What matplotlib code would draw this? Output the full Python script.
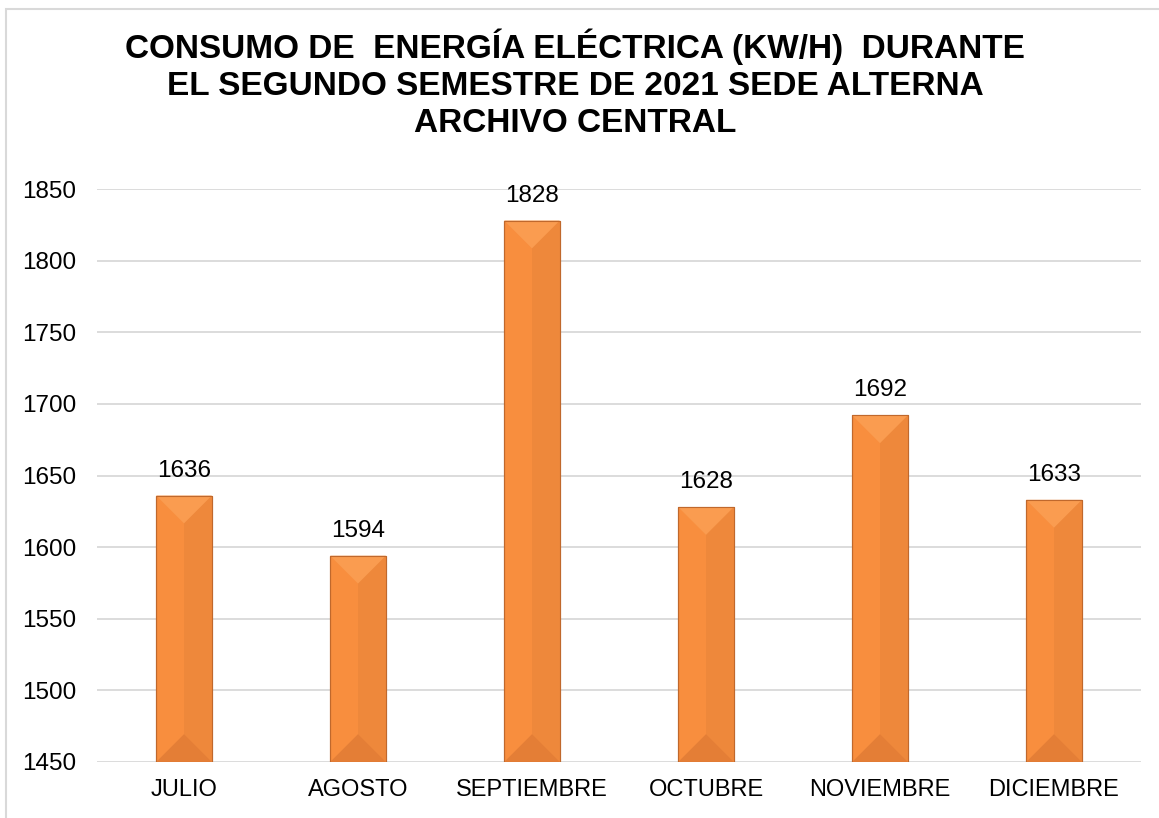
import matplotlib.pyplot as plt
from matplotlib.patches import Polygon, Rectangle

months = ['JULIO', 'AGOSTO', 'SEPTIEMBRE', 'OCTUBRE', 'NOVIEMBRE', 'DICIEMBRE']
consumo = [1636, 1594, 1828, 1628, 1692, 1633]
y_ticks = [1450, 1500, 1550, 1600, 1650, 1700, 1750, 1800, 1850]

title = ('CONSUMO DE  ENERGÍA ELÉCTRICA (KW/H)  DURANTE\n'
         'EL SEGUNDO SEMESTRE DE 2021 SEDE ALTERNA\n'
         'ARCHIVO CENTRAL')

plt.rcParams['font.family'] = ['Liberation Sans', 'DejaVu Sans']

fig = plt.figure(figsize=(11.59, 8.18), dpi=100)
ax = fig.add_axes([97 / 1159, 1 - 762 / 818, (1141 - 97) / 1159, (762 - 189) / 818])

# outer chart border (like the Excel chart area)
fig.add_artist(Rectangle((6 / 1159, -0.05), 1.2, 1 - 9 / 818 + 0.05,
                         transform=fig.transFigure, fill=False,
                         edgecolor='#D9D9D9', linewidth=1.5))

ymin, ymax = y_ticks[0], y_ticks[-1]
width = 0.32
x = list(range(len(months)))
bars = ax.bar(x, [v - ymin for v in consumo], bottom=ymin, width=width,
              color='#F88E3E', edgecolor='#C0682C', linewidth=0.8, zorder=3)

ax.set_xlim(-0.5, len(months) - 0.5)
ax.set_ylim(ymin, ymax)

# bevel effect: size of the 45 degree mitre in data units
ax_w_px = ax.get_position().width * fig.get_figwidth() * fig.dpi
ax_h_px = ax.get_position().height * fig.get_figheight() * fig.dpi
half_px = width / 2 * ax_w_px / len(months)
d = half_px * (ymax - ymin) / ax_h_px

for b in bars:
    x0 = b.get_x()
    x1 = x0 + b.get_width()
    c = (x0 + x1) / 2
    y0 = b.get_y()
    y1 = y0 + b.get_height()
    ax.add_patch(Polygon([(c, y0), (x1, y0), (x1, y1), (c, y1)],
                         color='#EE883B', lw=0, zorder=3.1))
    ax.add_patch(Polygon([(x0, y1), (x1, y1), (c, y1 - d)],
                         color='#FA9C50', lw=0, zorder=3.2))
    ax.add_patch(Polygon([(x0, y0), (x1, y0), (c, y0 + d)],
                         color='#E47E36', lw=0, zorder=3.2))
    ax.add_patch(Rectangle((x0, y0), x1 - x0, y1 - y0, fill=False,
                           edgecolor='#C0682C', lw=0.8, zorder=3.3))
    ax.annotate(str(int(y1)), (c, y1), xytext=(0, 10), textcoords='offset points',
                ha='center', va='bottom', fontsize=17.5, color='#000000')

ax.set_yticks(y_ticks)
ax.set_xticks(x)
ax.set_xticklabels(months)
ax.grid(axis='y', color='#D9D9D9', linewidth=1.3, zorder=0)
for s in ax.spines.values():
    s.set_visible(False)
ax.tick_params(axis='both', length=0, colors='#000000')
ax.tick_params(axis='y', pad=15, labelsize=17.5)
ax.tick_params(axis='x', pad=12, labelsize=17)

fig.text(575 / 1159, 1 - 84 / 818, title, ha='center', va='center',
         fontsize=24, fontweight='bold', linespacing=1.26)

fig.savefig('out.png', dpi=100)
plt.close(fig)
